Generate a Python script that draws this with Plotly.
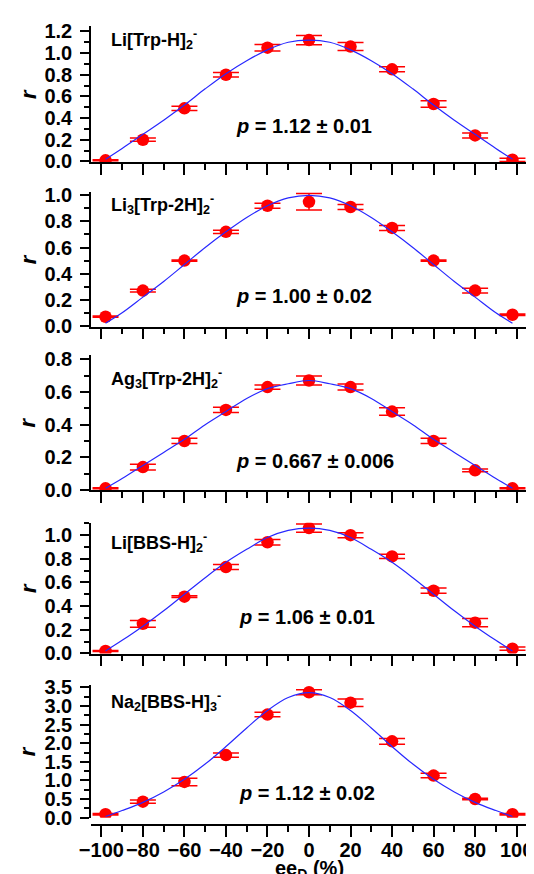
import plotly.graph_objects as go

# ---------------- data ----------------
ee_points = [-98, -80, -60, -40, -20, 0, 20, 40, 60, 80, 98]
ee_curve = [-98, -90, -80, -70, -60, -50, -40, -30, -20, -10, 0,
            10, 20, 30, 40, 50, 60, 70, 80, 90, 98]

labels = ["Li[Trp-H]<sub>2</sub><sup>-</sup>",
          "Li<sub>3</sub>[Trp-2H]<sub>2</sub><sup>-</sup>",
          "Ag<sub>3</sub>[Trp-2H]<sub>2</sub><sup>-</sup>",
          "Li[BBS-H]<sub>2</sub><sup>-</sup>",
          "Na<sub>2</sub>[BBS-H]<sub>3</sub><sup>-</sup>"]
p_texts = ["<i>p</i> = 1.12 ± 0.01",
           "<i>p</i> = 1.00 ± 0.02",
           "<i>p</i> = 0.667 ± 0.006",
           "<i>p</i> = 1.06 ± 0.01",
           "<i>p</i> = 1.12 ± 0.02"]

r1 = [0.01, 0.20, 0.49, 0.80, 1.05, 1.12, 1.06, 0.85, 0.53, 0.24, 0.015]
e1 = [0.005, 0.015, 0.02, 0.02, 0.03, 0.043, 0.037, 0.023, 0.03, 0.023, 0.015]
c1 = [0.02, 0.12, 0.25, 0.38, 0.52, 0.67, 0.81, 0.93, 1.03, 1.10, 1.12,
      1.10, 1.03, 0.93, 0.81, 0.67, 0.52, 0.38, 0.25, 0.12, 0.02]

r2 = [0.07, 0.27, 0.50, 0.72, 0.92, 0.95, 0.91, 0.75, 0.50, 0.27, 0.085]
e2 = [0.005, 0.01, 0.005, 0.013, 0.019, 0.063, 0.019, 0.019, 0.005, 0.018, 0.005]
c2 = [0.02, 0.10, 0.22, 0.34, 0.47, 0.60, 0.72, 0.83, 0.92, 0.98, 1.00,
      0.98, 0.92, 0.83, 0.72, 0.60, 0.47, 0.34, 0.22, 0.10, 0.02]

r3 = [0.01, 0.14, 0.30, 0.49, 0.63, 0.67, 0.63, 0.48, 0.30, 0.12, 0.01]
e3 = [0.003, 0.017, 0.016, 0.016, 0.013, 0.027, 0.018, 0.023, 0.016, 0.009, 0.003]
c3 = [0.01, 0.07, 0.15, 0.23, 0.31, 0.40, 0.48, 0.56, 0.62, 0.65, 0.67,
      0.65, 0.62, 0.56, 0.48, 0.40, 0.31, 0.23, 0.15, 0.07, 0.01]

r4 = [0.02, 0.25, 0.48, 0.73, 0.94, 1.06, 1.00, 0.82, 0.53, 0.26, 0.04]
e4 = [0.005, 0.028, 0.008, 0.021, 0.024, 0.035, 0.021, 0.018, 0.022, 0.035, 0.014]
c4 = [0.02, 0.11, 0.23, 0.36, 0.50, 0.64, 0.77, 0.88, 0.98, 1.04, 1.06,
      1.04, 0.98, 0.88, 0.77, 0.64, 0.50, 0.36, 0.23, 0.11, 0.02]

r5 = [0.09, 0.43, 0.96, 1.68, 2.77, 3.37, 3.09, 2.05, 1.13, 0.50, 0.09]
e5 = [0.02, 0.045, 0.10, 0.06, 0.06, 0.07, 0.10, 0.075, 0.06, 0.02, 0.02]
c5 = [0.03, 0.19, 0.41, 0.69, 1.03, 1.44, 1.91, 2.41, 2.88, 3.23, 3.36,
      3.23, 2.88, 2.41, 1.91, 1.44, 1.03, 0.69, 0.41, 0.19, 0.03]

values = [r1, r2, r3, r4, r5]
errors = [e1, e2, e3, e4, e5]
curves = [c1, c2, c3, c4, c5]

y_ranges = [[-0.01, 1.25], [-0.005, 1.025], [-0.002, 0.826], [-0.002, 1.105], [-0.005, 3.562]]
y_dticks = [0.2, 0.2, 0.2, 0.2, 0.5]
y_minor = [0.1, 0.1, 0.1, 0.1, 0.25]
y_domains = [[0.8292, 1.0], [0.6239, 0.7922], [0.4189, 0.5882], [0.2145, 0.3783], [0.0090, 0.1751]]
label_y = [0.904, 0.911, 0.827, 0.85, 0.88]
p_x = [0.329, 0.329, 0.329, 0.334, 0.336]
p_y = [0.269, 0.229, 0.215, 0.282, 0.186]

FONT = "Liberation Sans, Arial, sans-serif"

fig = go.Figure()
layout = {}
annotations = []
for i in range(5):
    k = "" if i == 0 else str(i + 1)
    xa, ya = "x" + k, "y" + k
    fig.add_trace(go.Scatter(
        x=ee_points, y=values[i], mode="markers",
        marker=dict(color="rgb(255,0,0)", size=12.5, line=dict(width=0)),
        error_y=dict(type="data", array=errors[i], color="rgb(255,0,0)",
                     thickness=1.5, width=13),
        xaxis=xa, yaxis=ya, showlegend=False, hoverinfo="skip"))
    fig.add_trace(go.Scatter(
        x=ee_curve, y=curves[i], mode="lines",
        line=dict(color="rgb(40,40,255)", width=1.2, shape="spline"),
        xaxis=xa, yaxis=ya, showlegend=False, hoverinfo="skip"))

    xax = dict(domain=[0, 1], range=[-105, 105], showline=True, linecolor="black",
               linewidth=1.5, ticks="outside", ticklen=11, tickwidth=1.5,
               tickcolor="black", tick0=0, dtick=20,
               minor=dict(dtick=10, ticks="outside", ticklen=6, tickwidth=1.5,
                          tickcolor="black"),
               showgrid=False, zeroline=False, showticklabels=(i == 4),
               tickfont=dict(family=FONT, size=20, color="black", weight="bold"),
               ticklabelstandoff=-4)
    if i == 4:
        xax.update(anchor="free", position=0)
    else:
        xax.update(anchor=ya)
    if i > 0:
        xax.update(matches="x")
    layout["xaxis" + k] = xax

    layout["yaxis" + k] = dict(
        domain=y_domains[i], range=y_ranges[i], anchor=xa, showline=True,
        linecolor="black", linewidth=1.5, ticks="outside", ticklen=9,
        tickwidth=1.5, tickcolor="black", tick0=0, dtick=y_dticks[i],
        tickformat=".1f",
        minor=dict(dtick=y_minor[i], ticks="outside", ticklen=5, tickwidth=1.5,
                   tickcolor="black"),
        showgrid=False, zeroline=False,
        tickfont=dict(family=FONT, size=20, color="black", weight="bold"),
        ticklabelstandoff=4)

    annotations.append(dict(
        text=labels[i], xref=xa + " domain", yref=ya + " domain",
        x=0.0423, y=label_y[i], xanchor="left", yanchor="middle", showarrow=False,
        font=dict(family=FONT, size=18, color="black", weight="bold")))
    annotations.append(dict(
        text=p_texts[i], xref=xa + " domain", yref=ya + " domain",
        x=p_x[i], y=p_y[i], xanchor="left", yanchor="middle", showarrow=False,
        font=dict(family=FONT, size=20, color="black", weight="bold")))
    annotations.append(dict(
        text="<i>r</i>", xref="paper", yref=ya + " domain",
        x=-0.1448, y=0.5, xanchor="center", yanchor="middle", textangle=-90,
        showarrow=False,
        font=dict(family=FONT, size=22, color="black", weight="bold")))

annotations.append(dict(
    text="ee<sub>D</sub> (%)", xref="paper", yref="paper", x=0.5, y=-0.0552,
    xanchor="center", yanchor="middle", showarrow=False,
    font=dict(family=FONT, size=20, color="black", weight="bold")))

fig.update_layout(**layout)
fig.update_layout(
    width=534, height=874,
    margin=dict(l=83, r=9, t=13, b=57.3),
    paper_bgcolor="white", plot_bgcolor="white",
    annotations=annotations, showlegend=False)

fig.write_html("out.html")
